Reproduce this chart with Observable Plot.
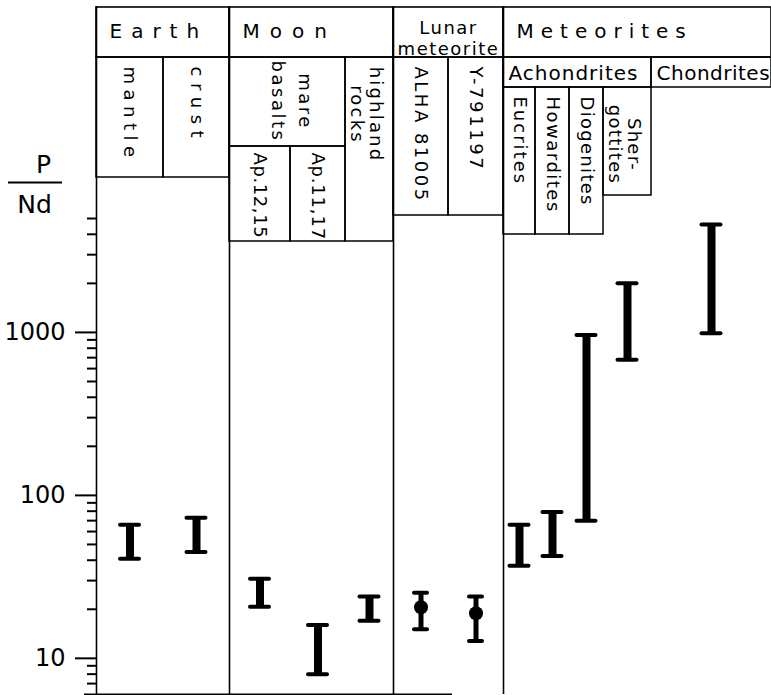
<!DOCTYPE html>
<html>
<head>
<meta charset="utf-8">
<script src="https://cdn.jsdelivr.net/npm/d3@7"></script>
<script src="https://cdn.jsdelivr.net/npm/@observablehq/plot@0.6"></script>
<style>
  body { margin: 0; background: #fff; }
</style>
</head>
<body>
<div id="chart"></div>
<script>
// ---------- DATA ----------
const categories = ["mantle", "crust", "Ap.12,15", "Ap.11,17", "highland rocks", "ALHA 81005", "Y-791197",
  "Eucrites", "Howardites", "Diogenites", "Shergottites", "Chondrites"];
const lowValues  = [40.8, 45, 20.7, 8.0, 17, 15.1, 12.8, 37, 42.5, 70, 680, 990];
const highValues = [66, 73, 30.8, 16, 24, 25.3, 24, 66, 79, 965, 2000, 4600];
const pointValues = [null, null, null, null, null, 20.6, 18.9, null, null, null, null, null];

const groupLabels = ["Earth", "Moon", "Lunar\nmeteorite", "Meteorites"];
const groupSpans = [[0, 1], [2, 4], [5, 6], [7, 11]];
const subgroupLabels = ["mare\nbasalts", "Achondrites", "Chondrites"];
const subgroupSpans = [[2, 3], [7, 10], [11, 11]];
const leafLabels = ["mantle", "crust", "Ap.12,15", "Ap.11,17", "highland\nrocks", "ALHA 81005", "Y-791197",
  "Eucrites", "Howardites", "Diogenites", "Sher-\ngottites", ""];

const majorTicks = [10, 100, 1000];
const minorTicks = [7, 8, 9, 20, 30, 40, 50, 60, 70, 80, 90, 200, 300, 400, 500, 600, 700, 800, 900, 2000, 3000, 4000, 5000];
const yLabelTop = "P";
const yLabelBottom = "Nd";

// ---------- LAYOUT ----------
const W = 771, H = 695, mL = 96, mT = 6, mB = 1, mR = 0;
const yDomain = [6, 1e5];
const colWidths = [67, 66, 61, 55, 48, 55, 55, 32, 34, 34, 48, 120];
const colStart = [];
let acc = 0;
for (const w of colWidths) { colStart.push(acc); acc += w; }
const xTotal = acc;
const colEnd = colStart.map((s, i) => s + colWidths[i]);
const colMid = colStart.map((s, i) => s + colWidths[i] / 2);
// pixel row -> y value (same mapping as the plot's y scale)
const py = d3.scaleLog().domain(yDomain).range([H - mB, mT]).invert;

const groupRow = [7, 57];
const subgroupRows = [[57, 146], [57, 87], [57, 87]];
const leafRows = [[57, 177], [57, 177], [146, 241], [146, 241], [57, 241], [57, 215], [57, 215],
  [87, 234], [87, 234], [87, 234], [87, 195], null];

// letter spacing (px) per header label
const spacing = new Map([
  ["Earth", 9], ["Moon", 10], ["Meteorites", 7], ["Lunarmeteorite", 1.5],
  ["Achondrites", 1], ["Chondrites", 0.5],
  ["mantle", 5.5], ["crust", 6.5], ["marebasalts", 2.5], ["highlandrocks", 2.2],
  ["Ap.12,15", 0.6], ["Ap.11,17", 0.8], ["ALHA 81005", 2.5], ["Y-791197", 2.6],
  ["Eucrites", 2], ["Howardites", 1.5], ["Diogenites", 1.3], ["Sher-gottites", 1.3]
]);

const groups = groupLabels.map((label, i) => ({
  label, x1: colStart[groupSpans[i][0]], x2: colEnd[groupSpans[i][1]],
  y1: py(groupRow[1]), y2: py(groupRow[0])
}));
const subgroups = subgroupLabels.map((label, i) => ({
  label, x1: colStart[subgroupSpans[i][0]], x2: colEnd[subgroupSpans[i][1]],
  y1: py(subgroupRows[i][1]), y2: py(subgroupRows[i][0]), top: subgroupRows[i][0],
  vertical: label.includes("\n")
}));
const leaves = leafLabels.map((label, i) => leafRows[i] ? ({
  label, x: colMid[i], x1: colStart[i], x2: colEnd[i],
  y1: py(leafRows[i][1]), y2: py(leafRows[i][0]), top: leafRows[i][0],
  multi: label.includes("\n"), maxLen: Math.max(...label.split("\n").map(s => s.length))
}) : null).filter(d => d);

const bars = categories.map((c, i) => ({
  category: c, x: colMid[i], low: lowValues[i], high: highValues[i], point: pointValues[i]
}));
const mainBars = bars.filter(d => d.point == null);
const lunarBars = bars.filter(d => d.point != null);

const plot = Plot.plot({
  width: W, height: H,
  marginLeft: mL, marginRight: mR, marginTop: mT, marginBottom: mB,
  style: { background: "#fff", color: "#000", fontFamily: "DejaVu Sans", overflow: "visible" },
  x: { type: "linear", domain: [0, xTotal], axis: null },
  y: { type: "log", domain: yDomain },
  marks: [
    // header boxes
    Plot.rect(groups, { x1: "x1", x2: "x2", y1: "y1", y2: "y2", fill: "none", stroke: "#000", strokeWidth: 1.6 }),
    Plot.rect(subgroups, { x1: "x1", x2: "x2", y1: "y1", y2: "y2", fill: "none", stroke: "#000", strokeWidth: 1.5 }),
    Plot.rect(leaves, { x1: "x1", x2: "x2", y1: "y1", y2: "y2", fill: "none", stroke: "#000", strokeWidth: 1.5 }),
    // frame / dividers
    Plot.ruleX([0], { strokeWidth: 1.6 }),
    Plot.ruleX([colStart[2], colStart[5], colStart[7]], { strokeWidth: 1.6 }),
    Plot.ruleY([yDomain[0]], { x1: () => -12, x2: () => colStart[6] + 4, strokeWidth: 2 }),
    // axis
    Plot.axisY({ ticks: majorTicks, tickSize: 21, tickPadding: 10, tickFormat: d => String(d),
      fontSize: 24, fontFamily: "DejaVu Sans", strokeWidth: 2, label: null, anchor: "left" }),
    Plot.axisY({ ticks: minorTicks, tickSize: 9, tickFormat: () => "", strokeWidth: 2, label: null, anchor: "left" }),
    // y label P / Nd
    Plot.text([yLabelTop], { text: d => d, x: () => -53, y: () => py(164), fontSize: 25 }),
    Plot.ruleY([0], { y: () => py(182), x1: () => -88, x2: () => -34, strokeWidth: 2 }),
    Plot.text([yLabelBottom], { text: d => d, x: () => -62, y: () => py(204), fontSize: 25 }),
    // header labels
    Plot.text(groups.filter(d => !d.label.includes("\n")), { text: "label", x: "x1", y: () => py(31),
      textAnchor: "start", dx: 13, fontSize: 20 }),
    Plot.text(groups.filter(d => d.label.includes("\n")), { text: "label", x: d => (d.x1 + d.x2) / 2, y: () => py(37),
      textAnchor: "middle", fontSize: 18, lineHeight: 1.2 }),
    Plot.text(subgroups.filter(d => !d.vertical), { text: "label", x: "x1", y: () => py(73),
      textAnchor: "start", dx: 5, fontSize: 20 }),
    Plot.text(subgroups.filter(d => d.vertical), { text: "label", x: d => (d.x1 + d.x2) / 2 + 7, y: d => py(d.top + 44),
      rotate: 90, textAnchor: "middle", fontSize: 18, lineHeight: 1.5 }),
    Plot.text(leaves.filter(d => !d.multi), { text: "label", x: "x", y: d => py(d.top + (d.top === 146 ? 6 : 9)),
      rotate: 90, textAnchor: "start", fontSize: 18 }),
    Plot.text(leaves.filter(d => d.multi), { text: "label", x: d => d.x - 3, y: d => py(d.top + 9 + d.maxLen * 6),
      rotate: 90, textAnchor: "middle", fontSize: 18, lineHeight: 1.05 }),
    // error bars
    Plot.ruleX(mainBars, { x: "x", y1: "low", y2: "high", strokeWidth: 8 }),
    Plot.ruleY(mainBars, { y: "low", x1: d => d.x - 9.5, x2: d => d.x + 9.5, strokeWidth: 4, strokeLinecap: "round" }),
    Plot.ruleY(mainBars, { y: "high", x1: d => d.x - 9.5, x2: d => d.x + 9.5, strokeWidth: 4, strokeLinecap: "round" }),
    Plot.ruleX(lunarBars, { x: "x", y1: "low", y2: "high", strokeWidth: 5 }),
    Plot.ruleY(lunarBars, { y: "low", x1: d => d.x - 6.5, x2: d => d.x + 6.5, strokeWidth: 4, strokeLinecap: "round" }),
    Plot.ruleY(lunarBars, { y: "high", x1: d => d.x - 6.5, x2: d => d.x + 6.5, strokeWidth: 4, strokeLinecap: "round" }),
    Plot.dot(lunarBars, { x: "x", y: "point", r: 7, fill: "#000", stroke: "none" })
  ]
});

// apply letter spacing to header labels
d3.select(plot).selectAll("text").each(function () {
  const key = this.textContent;
  if (spacing.has(key)) this.style.letterSpacing = spacing.get(key) + "px";
});
document.getElementById("chart").appendChild(plot);
</script>
</body>
</html>
